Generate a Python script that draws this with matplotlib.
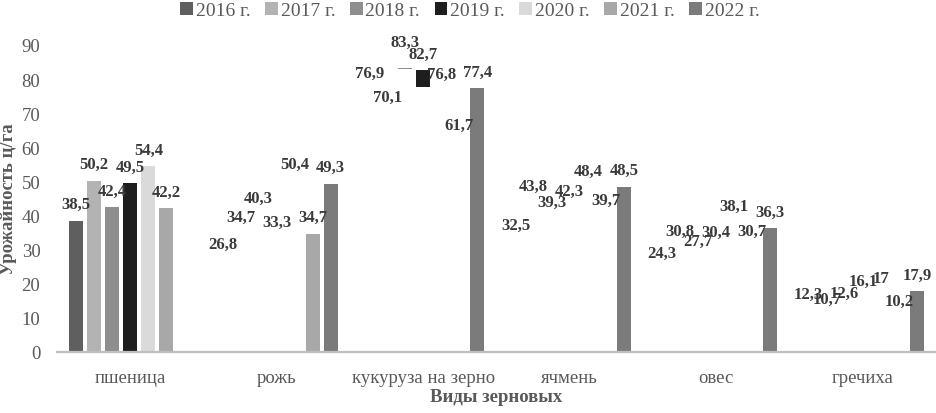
import numpy as np
import matplotlib.pyplot as plt
from matplotlib.patches import Patch

plt.rcParams["font.family"] = ["Liberation Serif", "DejaVu Serif"]

crops = ["пшеница", "рожь", "кукуруза на зерно", "ячмень", "овес", "гречиха"]
years = ["2016 г.", "2017 г.", "2018 г.", "2019 г.", "2020 г.", "2021 г.", "2022 г."]

# урожайность, ц/га
y2016 = [38.5, 26.8, 76.9, 32.5, 24.3, 12.3]
y2017 = [50.2, 34.7, 70.1, 43.8, 30.8, 10.7]
y2018 = [42.4, 40.3, 83.3, 39.3, 27.7, 12.6]
y2019 = [49.5, 33.3, 82.7, 42.3, 30.4, 16.1]
y2020 = [54.4, 50.4, 76.8, 48.4, 38.1, 17.0]
y2021 = [42.2, 34.7, 61.7, 39.7, 30.7, 10.2]
y2022 = [np.nan, 49.3, 77.4, 48.5, 36.3, 17.9]
series = [y2016, y2017, y2018, y2019, y2020, y2021, y2022]

colors = ["#5f5f5f", "#b3b3b3", "#8e8e8e", "#1e1e1e", "#dadada", "#a8a8a8", "#7b7b7b"]

# which bars actually show up in the source picture (the rest only have labels)
shown = {
    "пшеница": ["2016 г.", "2017 г.", "2018 г.", "2019 г.", "2020 г.", "2021 г."],
    "рожь": ["2021 г.", "2022 г."],
    "кукуруза на зерно": ["2022 г."],
    "ячмень": ["2022 г."],
    "овес": ["2022 г."],
    "гречиха": ["2022 г."],
}
# bars of which only the upper piece is visible: lower edge of the piece
partial = {
    ("кукуруза на зерно", "2018 г."): 82.9,
    ("кукуруза на зерно", "2019 г."): 77.7,
}
# labels that were pushed up to dodge a neighbour (points)
nudge = {("кукуруза на зерно", "2018 г."): 7}

fig = plt.figure(figsize=(9.36, 4.14), dpi=100)
ax = fig.add_axes([57 / 936, 1 - 353 / 414, 1 - 57 / 936, (353 - 46) / 414])

x = np.arange(len(crops))
pitch = 0.123
width = 0.098

for i, (year, vals, col) in enumerate(zip(years, series, colors)):
    pos = x + (i - 3) * pitch
    for j, crop in enumerate(crops):
        v = vals[j]
        if np.isnan(v):
            continue
        if year in shown[crop]:
            ax.bar(pos[j], v, width=width, color=col, linewidth=0)
        elif (crop, year) in partial:
            b = partial[(crop, year)]
            ax.bar(pos[j], v - b, bottom=b, width=width, color=col, linewidth=0)
        dy = 9 + nudge.get((crop, year), 0)
        ax.annotate(f"{v:g}".replace(".", ","), (pos[j], v), xytext=(0, dy),
                    textcoords="offset points", ha="center", va="baseline",
                    fontsize=12, fontweight="bold", color="#3a3a3a")

ax.set_xlim(-0.5, len(crops) - 0.5)
ax.set_ylim(0, 90)
ax.set_yticks(np.arange(0, 91, 10))
ax.set_xticks(x)
ax.set_xticklabels(crops)
ax.tick_params(axis="both", length=0, labelsize=13.5, labelcolor="#595959")
ax.tick_params(axis="y", pad=12)
ax.tick_params(axis="x", pad=12)

for s in ["top", "right", "left"]:
    ax.spines[s].set_visible(False)
ax.spines["bottom"].set_color("#bfbfbf")
ax.spines["bottom"].set_linewidth(1.6)

ax.set_ylabel("Урожайность ц/га", fontsize=13.5, fontweight="bold", color="#595959")
ax.yaxis.set_label_coords(-0.046, 0.5)
ax.set_xlabel("Виды зерновых", fontsize=13.5, fontweight="bold", color="#595959", labelpad=2)

handles = [Patch(facecolor=c, edgecolor="none") for c in colors]
fig.legend(handles, years, loc="upper center", bbox_to_anchor=(0.502, 1.022), ncol=7,
           frameon=False, fontsize=14, handlelength=0.65, handleheight=0.65,
           handletextpad=0.15, columnspacing=0.75, borderpad=0.1, labelcolor="#595959")

fig.savefig("out.png", dpi=100)
